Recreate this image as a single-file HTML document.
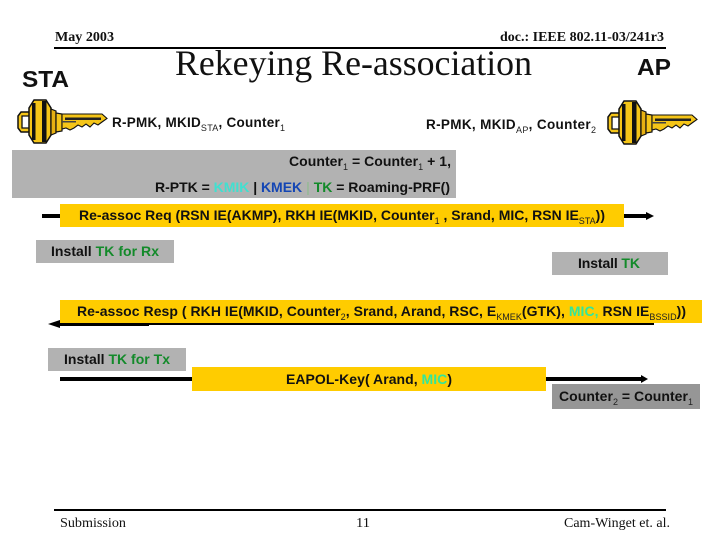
<!DOCTYPE html>
<html>
<head>
<meta charset="utf-8">
<style>
html,body{margin:0;padding:0;background:#fff}
svg{display:block}
text{font-family:"Liberation Sans",sans-serif;font-weight:bold;font-size:14px;fill:#111}
.s{font-family:"Liberation Serif",serif}
.sub{font-size:9px;font-weight:normal;fill:#222}
</style>
</head>
<body>
<svg width="720" height="540" viewBox="0 0 720 540" xmlns="http://www.w3.org/2000/svg">
<defs>
<g id="key">
<path d="M20 17 L11 17 L8 21 L8 33 L11 37 L20 37 Z" fill="#f5c518" stroke="#111" stroke-width="1.5"/>
<path d="M12 21 L20 21 L20 33 L12 33 Z" fill="#fff" stroke="#111" stroke-width="1.3"/>
<path d="M19 13 L24 5 L36 5 L41 13 L41 40 L36 48 L24 48 L19 40 Z" fill="#f5c518" stroke="#111" stroke-width="1.5"/>
<rect x="22" y="8" width="3.5" height="37" fill="#111"/>
<rect x="32" y="6" width="4.5" height="41" fill="#111"/>
<path d="M41 14 L46 16 L46 38 L41 40 Z" fill="#e6b012" stroke="#111" stroke-width="1.2"/>
<path d="M46 18 L52 19 L52 36 L46 37 Z" fill="#f5c518" stroke="#111" stroke-width="1.2"/>
<path d="M52 19 L92 19 L97 23.5 L92 27 L88 30 L84 28 L80 32 L76 29 L72 32 L68 30 L64 33 L60 35 L56 33 L52 34 Z" fill="#f5c518" stroke="#111" stroke-width="1.1"/>
<rect x="55" y="22.5" width="36" height="2.5" fill="#222"/>
<rect x="52" y="26" width="14" height="1.5" fill="#444"/>
</g>
</defs>

<rect width="720" height="540" fill="#fff"/>

<!-- header -->
<text class="s" x="55" y="41" style="font-size:14px" textLength="59" lengthAdjust="spacingAndGlyphs">May 2003</text>
<text class="s" x="500" y="41" style="font-size:14px" textLength="164" lengthAdjust="spacingAndGlyphs">doc.: IEEE 802.11-03/241r3</text>
<rect x="54" y="47" width="612" height="2" fill="#000"/>
<text class="s" x="175" y="75" style="font-size:36px;font-weight:normal" textLength="357" lengthAdjust="spacingAndGlyphs">Rekeying Re-association</text>
<text x="22" y="87" style="font-size:23px" textLength="47" lengthAdjust="spacingAndGlyphs">STA</text>
<text x="637" y="75" style="font-size:23px" textLength="34" lengthAdjust="spacingAndGlyphs">AP</text>

<!-- keys -->
<use href="#key" x="10" y="95"/>
<use href="#key" x="600" y="96"/>

<!-- key labels -->
<text x="112" y="127" style="font-size:13.5px" textLength="173" lengthAdjust="spacing">R-PMK, MKID<tspan class="sub" dy="4">STA</tspan><tspan dy="-4">, Counter</tspan><tspan class="sub" dy="4">1</tspan></text>
<text x="426" y="129" style="font-size:13.5px" textLength="170" lengthAdjust="spacing">R-PMK, MKID<tspan class="sub" dy="4">AP</tspan><tspan dy="-4">, Counter</tspan><tspan class="sub" dy="4">2</tspan></text>

<!-- grey derivation box -->
<rect x="12" y="150" width="444" height="48" fill="#b2b2b2"/>
<text x="289" y="166" textLength="162" lengthAdjust="spacing">Counter<tspan class="sub" dy="4">1</tspan><tspan dy="-4"> = Counter</tspan><tspan class="sub" dy="4">1</tspan><tspan dy="-4"> + 1,</tspan></text>
<text x="155" y="192" textLength="295" lengthAdjust="spacing">R-PTK = <tspan style="fill:#40e0d0">KMIK</tspan> | <tspan style="fill:#1446b4">KMEK</tspan> <tspan style="fill:#9ab89a">|</tspan> <tspan style="fill:#138a2a">TK</tspan> = Roaming-PRF()</text>

<!-- Re-assoc Req -->
<rect x="42" y="214" width="606" height="4" fill="#000"/>
<path d="M646 212 L654 216 L646 220 Z" fill="#000"/>
<rect x="60" y="204" width="564" height="23" fill="#ffcc00"/>
<text x="79" y="220" textLength="526" lengthAdjust="spacing">Re-assoc Req (RSN IE(AKMP), RKH IE(MKID, Counter<tspan class="sub" dy="4">1</tspan><tspan dy="-4"> , Srand, MIC, RSN IE</tspan><tspan class="sub" dy="4">STA</tspan><tspan dy="-4">))</tspan></text>

<!-- Install boxes -->
<rect x="36" y="240" width="138" height="23" fill="#b2b2b2"/>
<text x="51" y="256" textLength="108" lengthAdjust="spacing">Install <tspan style="fill:#138a2a">TK for Rx</tspan></text>
<rect x="552" y="252" width="116" height="23" fill="#b2b2b2"/>
<text x="578" y="268" textLength="62" lengthAdjust="spacing">Install <tspan style="fill:#138a2a">TK</tspan></text>

<!-- Re-assoc Resp -->
<rect x="60" y="300" width="642" height="23" fill="#ffcc00"/>
<rect x="54" y="323" width="600" height="2" fill="#000"/>
<rect x="54" y="323" width="95" height="3" fill="#000"/>
<path d="M48 324 L60 320 L60 328 Z" fill="#000"/>
<text x="77" y="316" textLength="609" lengthAdjust="spacing">Re-assoc Resp ( RKH IE(MKID, Counter<tspan class="sub" dy="4">2</tspan><tspan dy="-4">, Srand, Arand, RSC, E</tspan><tspan class="sub" dy="4">KMEK</tspan><tspan dy="-4">(GTK), </tspan><tspan dy="0" style="fill:#33e69a">MIC, </tspan><tspan>RSN IE</tspan><tspan class="sub" dy="4">BSSID</tspan><tspan dy="-4">))</tspan></text>

<!-- Install Tx -->
<rect x="48" y="348" width="138" height="23" fill="#b2b2b2"/>
<text x="64" y="364" textLength="106" lengthAdjust="spacing">Install <tspan style="fill:#138a2a">TK for Tx</tspan></text>

<!-- EAPOL -->
<rect x="60" y="377" width="583" height="4" fill="#000"/>
<path d="M641 375 L648 379 L641 383 Z" fill="#000"/>
<rect x="192" y="367" width="354" height="24" fill="#ffcc00"/>
<text x="286" y="384" textLength="166" lengthAdjust="spacing">EAPOL-Key( Arand, <tspan style="fill:#33e69a">MIC</tspan>)</text>

<!-- Counter box -->
<rect x="552" y="384" width="148" height="25" fill="#969696"/>
<text x="559" y="401" textLength="134" lengthAdjust="spacing">Counter<tspan class="sub" dy="4">2</tspan><tspan dy="-4"> = Counter</tspan><tspan class="sub" dy="4">1</tspan></text>

<!-- footer -->
<rect x="54" y="509" width="612" height="2" fill="#000"/>
<text class="s" x="60" y="527" style="font-size:14px;font-weight:normal" textLength="66" lengthAdjust="spacingAndGlyphs">Submission</text>
<text class="s" x="356" y="527" style="font-size:14px;font-weight:normal" textLength="14" lengthAdjust="spacingAndGlyphs">11</text>
<text class="s" x="564" y="527" style="font-size:14px;font-weight:normal" textLength="106" lengthAdjust="spacingAndGlyphs">Cam-Winget et. al.</text>
</svg>
</body>
</html>
